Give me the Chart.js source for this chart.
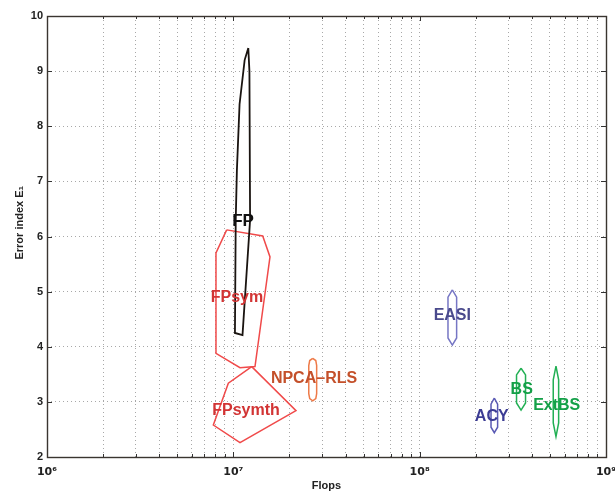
<!DOCTYPE html>
<html><head><meta charset="utf-8">
<script src="https://cdn.jsdelivr.net/npm/chart.js@4"></script>
<style>html,body{margin:0;padding:0;background:#fff}</style>
</head><body><canvas id="c" width="615" height="491"></canvas>
<script>
// ---- data ----
const decades = [1e6, 1e7, 1e8, 1e9];
const xTickLabels = ['10\u2076', '10\u2077', '10\u2078', '10\u2079'];
const yTickValues = [2, 3, 4, 5, 6, 7, 8, 9, 10];

const fpX = [1.203e7, 1.15e7, 1.08e7, 1.045e7, 1.03e7, 1.02e7, 1.12e7, 1.23e7, 1.22e7];
const fpY = [9.42, 9.2, 8.4, 7.2, 6.3, 4.25, 4.21, 6.3, 9.0];

const fpsymX = [9.21e6, 1.438e7, 1.573e7, 1.307e7, 1.086e7, 8.07e6, 8.07e6];
const fpsymY = [6.12, 6.01, 5.63, 3.64, 3.62, 3.88, 5.70];

const fpsymthX = [1.255e7, 9.40e6, 7.81e6, 1.086e7, 2.169e7];
const fpsymthY = [3.64, 3.34, 2.58, 2.26, 2.84];

const npcaX = [2.667e7, 2.77e7, 2.80e7, 2.80e7, 2.77e7, 2.667e7, 2.57e7, 2.54e7, 2.54e7, 2.57e7];
const npcaY = [3.79, 3.75, 3.66, 3.15, 3.06, 3.02, 3.06, 3.15, 3.66, 3.75];

const easiX = [1.497e8, 1.579e8, 1.579e8, 1.497e8, 1.419e8, 1.419e8];
const easiY = [5.03, 4.90, 4.16, 4.03, 4.16, 4.90];

const acyX = [2.515e8, 2.62e8, 2.62e8, 2.515e8, 2.415e8, 2.415e8];
const acyY = [3.07, 2.96, 2.54, 2.44, 2.54, 2.96];

const bsX = [3.50e8, 3.70e8, 3.70e8, 3.50e8, 3.31e8, 3.31e8];
const bsY = [3.61, 3.49, 2.98, 2.85, 2.98, 3.49];

const extbsX = [5.39e8, 5.57e8, 5.57e8, 5.39e8, 5.21e8, 5.21e8];
const extbsY = [3.65, 3.40, 2.62, 2.37, 2.62, 3.40];

const labelNames = ['FP', 'FPsym', 'FPsymth', 'NPCA\u2013RLS', 'EASI', 'ACY', 'BS', 'ExtBS'];
const labelX = [1.128e7, 1.046e7, 1.169e7, 2.71e7, 1.497e8, 2.436e8, 3.528e8, 5.44e8];
const labelY = [6.28, 4.90, 2.85, 3.415, 4.558, 2.731, 3.228, 2.925];

// ---- styles ----
const labelColors = ['#111111', '#d23434', '#d23434', '#c4502a', '#4a4a8c', '#3c3c94', '#14a048', '#14a048'];
const labelSizes = [17, 16, 16, 16, 16, 16, 16, 16];

function closed(xs, ys) {
  const pts = xs.map((x, i) => ({x: x, y: ys[i]}));
  pts.push({x: xs[0], y: ys[0]});
  return pts;
}
function shape(xs, ys, color, w) {
  return {data: closed(xs, ys), showLine: true, borderColor: color, borderWidth: w,
          pointRadius: 0, pointHoverRadius: 0, fill: false, tension: 0};
}

const xTickValues = [];
for (let d = 0; d < decades.length - 1; d++) {
  for (let m = 1; m <= 9; m++) xTickValues.push(m * decades[d]);
}
xTickValues.push(decades[decades.length - 1]);

const overlay = {
  id: 'overlay',
  afterDatasetsDraw(chart) {
    const {ctx, chartArea: a, scales: {x, y}} = chart;
    ctx.save();
    ctx.strokeStyle = '#333';
    ctx.lineWidth = 1;
    ctx.beginPath();
    xTickValues.forEach(v => {
      const px = Math.round(x.getPixelForValue(v)) + 0.5;
      const len = decades.includes(v) ? 5 : 3;
      ctx.moveTo(px, a.bottom); ctx.lineTo(px, a.bottom - len);
      ctx.moveTo(px, a.top); ctx.lineTo(px, a.top + len);
    });
    yTickValues.forEach(v => {
      const py = Math.round(y.getPixelForValue(v)) + 0.5;
      ctx.moveTo(a.left, py); ctx.lineTo(a.left + 5, py);
      ctx.moveTo(a.right, py); ctx.lineTo(a.right - 5, py);
    });
    ctx.stroke();
    ctx.strokeStyle = '#3a3530';
    ctx.lineWidth = 1.4;
    ctx.strokeRect(Math.round(a.left) + 0.5, Math.round(a.top) + 0.5,
                   Math.round(a.right - a.left), Math.round(a.bottom - a.top));
    ctx.textAlign = 'center';
    ctx.textBaseline = 'middle';
    labelNames.forEach((t, i) => {
      ctx.font = 'bold ' + labelSizes[i] + 'px "Liberation Sans", Arial, sans-serif';
      ctx.fillStyle = labelColors[i];
      ctx.fillText(t, x.getPixelForValue(labelX[i]), y.getPixelForValue(labelY[i]));
    });
    ctx.restore();
  }
};

const tickFont = {family: '"Liberation Sans", Arial, sans-serif', size: 11, weight: 'bold'};

new Chart(document.getElementById('c'), {
  type: 'scatter',
  data: {
    datasets: [
      shape(fpX, fpY, '#1a1410', 1.8),
      shape(fpsymX, fpsymY, '#f04a4a', 1.5),
      shape(fpsymthX, fpsymthY, '#f04a4a', 1.5),
      shape(npcaX, npcaY, '#ee7a48', 1.5),
      shape(easiX, easiY, '#7676c4', 1.5),
      shape(acyX, acyY, '#5a5ab4', 1.5),
      shape(bsX, bsY, '#22b054', 1.5),
      shape(extbsX, extbsY, '#22b054', 1.5)
    ]
  },
  options: {
    responsive: false,
    animation: false,
    devicePixelRatio: 1,
    layout: {padding: {top: 16, right: 9, left: 0, bottom: 0}},
    plugins: {legend: {display: false}, tooltip: {enabled: false}},
    scales: {
      x: {
        type: 'logarithmic', min: 1e6, max: 1e9,
        afterBuildTicks: s => { s.ticks = xTickValues.map(v => ({value: v})); },
        afterFit: s => { s.height = 34; s.paddingLeft = 0; s.paddingRight = 0; },
        ticks: {
          autoSkip: false, maxRotation: 0, padding: 9, color: '#222',
          font: {family: '"DejaVu Sans", "Liberation Sans", sans-serif', size: 11, weight: 'bold'},
          callback: v => { const i = decades.indexOf(v); return i >= 0 ? xTickLabels[i] : ''; }
        },
        grid: {color: '#a8a8a8', lineWidth: 1, drawTicks: false},
        border: {display: false, dash: [1, 3]},
        title: {display: true, text: 'Flops', color: '#222',
                font: {family: '"Liberation Sans", Arial, sans-serif', size: 11, weight: 'bold', lineHeight: 1},
                padding: {top: 0, bottom: 0}}
      },
      y: {
        type: 'linear', min: 2, max: 10,
        afterBuildTicks: s => { s.ticks = yTickValues.map(v => ({value: v})); },
        afterFit: s => { s.width = 47; s.paddingTop = 0; s.paddingBottom = 0; },
        ticks: {padding: 4, color: '#222', font: tickFont},
        grid: {color: '#a8a8a8', lineWidth: 1, drawTicks: false},
        border: {display: false, dash: [1, 3]},
        title: {display: true, text: '\u00a0\u00a0\u00a0\u00a0\u00a0\u00a0\u00a0\u00a0\u00a0Error index E\u2081', color: '#222',
                font: {family: '"Liberation Sans", Arial, sans-serif', size: 11, weight: 'bold', lineHeight: 1},
                padding: {top: 14, bottom: 0}}
      }
    }
  },
  plugins: [overlay]
});
</script>
</body></html>
